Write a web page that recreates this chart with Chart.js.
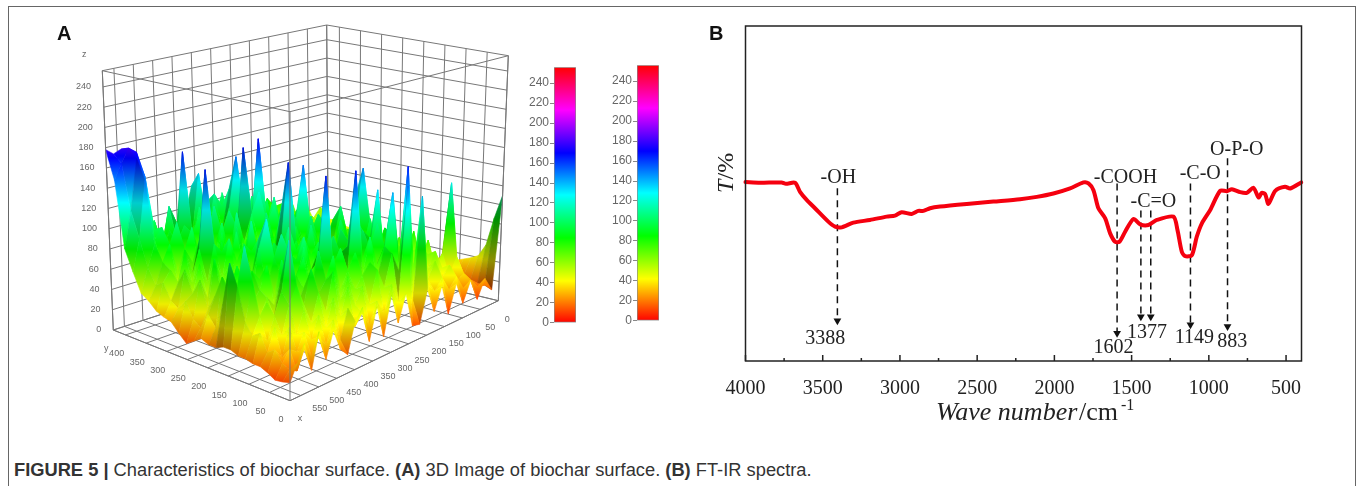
<!DOCTYPE html>
<html>
<head>
<meta charset="utf-8">
<script src="https://cdn.jsdelivr.net/npm/chart.js@4/dist/chart.umd.js"></script>
<style>
html,body{margin:0;padding:0;background:#fff;width:1358px;height:486px;overflow:hidden}
canvas,.txt,.frame{position:absolute}
.frame{left:8px;top:6px;width:1346px;height:480px;border:1px solid #666;border-bottom:none}
.txt{font-family:"Liberation Sans",Arial,sans-serif;color:#111;white-space:nowrap}
.tag{font-weight:bold;font-size:20px}
#cap{left:14px;top:459px;font-size:18.3px;color:#333}
#chartA,#chartB{filter:blur(.5px)}
</style>
</head>
<body>
<div class="frame"></div>
<canvas id="chartA" width="480" height="420" style="left:40px;top:10px"></canvas>
<canvas id="barOne" width="72" height="272" style="left:504px;top:59px"></canvas>
<canvas id="barTwo" width="72" height="272" style="left:587px;top:57px"></canvas>
<canvas id="chartB" width="668" height="430" style="left:690px;top:0"></canvas>
<div class="txt tag" style="left:57px;top:22px">A</div>
<div class="txt tag" style="left:709px;top:22px">B</div>
<div class="txt" id="cap"><b>FIGURE 5 |</b> Characteristics of biochar surface. <b>(A)</b> 3D Image of biochar surface. <b>(B)</b> FT-IR spectra.</div>
<script>
// ---- panel A data, heights (back row first, x=580 on the left)
const xTicks = [0,50,100,150,200,250,300,350,400,450,500,550];
const yTicks = [0,50,100,150,200,250,300,350,400];
const zTicks = [0,20,40,60,80,100,120,140,160,180,200,220,240];
const xMax = 580, yMax = 430, zMax = 256;
const surfaceX = [580,560,540,520,500,480,460,440,420,400,380,360,340,320,300,280,260,240,220,200,180,160,140,120,100,80,60,40,20,0];
const surfaceY = [430,412,394,376,358,340,322,304,287,269,251,233,215,197,179,161,143,125,108,90,72,54,36,18,0];
const surfaceZ = [
  [178,172,175,165,110,85,95,70,105,75,90,120,85,100,80,105,75,95,70,90,65,85,75,60,80,55,70,50,60,45],
  [150,165,178,172,85,100,70,110,90,85,75,135,70,110,95,80,100,70,85,75,90,60,80,70,55,70,50,60,45,45],
  [85,120,170,150,95,70,90,75,165,70,105,85,95,75,115,90,70,95,65,85,60,75,55,70,60,45,60,40,50,40],
  [65,95,150,90,100,65,80,95,85,100,65,90,70,100,150,75,105,65,90,60,80,55,70,50,65,55,45,55,40,40],
  [47,70,90,65,85,105,60,90,70,80,110,65,95,80,95,85,75,100,60,85,55,75,50,65,45,60,40,50,45,35],
  [42,55,75,90,60,80,100,65,95,75,85,105,70,165,90,170,80,70,95,65,80,60,70,45,60,40,55,40,35,35],
  [35,60,70,55,85,70,60,105,70,100,65,90,75,100,120,85,110,75,60,90,55,75,50,70,45,55,35,50,35,30],
  [32,45,60,85,65,95,75,60,95,65,110,75,85,70,90,105,70,100,85,60,80,55,70,45,60,40,50,35,45,30],
  [30,40,75,60,90,165,65,90,60,100,70,95,65,105,75,85,95,65,90,70,60,75,50,65,40,55,35,45,30,30],
  [22,50,55,80,60,95,85,70,100,75,85,60,105,80,100,70,85,105,60,85,65,55,70,45,60,35,50,35,40,30],
  [15,35,70,50,85,65,100,75,65,110,70,95,75,90,65,100,150,75,95,65,80,60,50,65,40,55,35,45,30,30],
  [20,30,45,90,60,80,60,95,85,65,105,70,115,70,95,75,85,100,65,90,55,75,60,45,60,35,50,30,40,30],
  [25,45,60,55,80,55,90,70,100,80,65,90,165,85,70,105,75,90,70,105,70,60,75,50,40,55,35,45,30,28],
  [22,35,80,65,50,95,70,105,60,95,85,75,90,65,100,80,110,65,95,75,115,55,65,50,60,35,50,30,35,28],
  [22,60,65,90,70,60,100,125,80,70,110,85,70,105,75,90,70,100,80,95,145,70,55,70,45,55,35,45,30,30],
  [25,100,75,55,85,75,65,90,110,75,65,100,80,70,115,65,95,75,110,65,90,60,75,50,60,40,50,30,35,30],
  [25,80,115,60,70,90,60,75,95,85,105,70,95,80,70,100,85,105,70,100,60,85,55,70,40,60,35,40,30,30],
  [22,50,85,50,65,55,95,60,70,100,75,90,70,100,60,90,75,95,85,70,90,60,75,50,65,40,45,30,25,32],
  [22,40,55,65,50,85,65,80,95,65,85,165,75,85,90,65,100,75,135,60,85,70,55,80,45,60,35,35,30,32],
  [20,45,35,55,75,120,55,70,60,100,70,80,95,70,165,75,85,105,70,90,60,75,65,50,70,40,45,30,25,35],
  [20,30,50,40,65,80,60,90,65,75,95,60,75,90,65,100,70,85,100,65,85,55,70,60,40,55,125,35,22,38],
  [17,35,25,50,40,60,45,70,50,85,55,75,60,70,80,60,90,140,70,85,60,75,50,65,45,35,50,30,20,42],
  [13,25,35,30,45,35,55,40,65,45,70,50,65,45,75,55,85,65,165,60,70,45,60,40,50,30,35,25,18,55],
  [14,22,18,35,25,40,30,50,28,55,35,45,30,50,35,60,40,150,35,135,45,35,45,30,40,25,30,20,18,85],
  [16,30,45,18,50,22,45,25,17,45,55,20,50,18,55,25,50,16,14,45,20,42,11,38,15,35,12,30,15,110]
];
const colourZ = [0,42,85,128,170,213,256];
const colourRgb = [[255,0,0],[255,255,0],[0,255,0],[0,255,255],[0,0,255],[255,0,255],[255,0,0]];

// ---- panel B data
const waveNumber = [4000,3906,3766,3738,3679,3647,3604,3550,3464,3420,3377,3302,3194,3086,3032,2989,2924,2881,2848,2805,2740,2567,2395,2222,2114,2006,1898,1812,1779,1747,1715,1671,1639,1607,1579,1542,1488,1445,1391,1337,1229,1203,1175,1153,1110,1078,1045,991,927,883,851,797,754,711,678,657,635,614,570,506,473,402];
const transmit = [53.4,53.2,53.3,52.9,53.2,50.5,48.1,45.6,41.6,40.1,39.9,41.3,42.1,43.1,43.4,44.4,43.9,44.8,44.8,45.6,46.1,46.9,47.6,48.3,49,50,51.5,53.3,53,51,45.6,42.6,38.1,35.6,35.6,38.6,42.4,40.8,40.6,42.1,43.1,39.1,32.6,31.3,31.6,37.1,41.1,45.1,50.8,50.7,51.3,50.4,50.2,51.7,48.8,50.2,49.8,46.9,50.8,52,51.5,53.3];
const waveTicks = [4000,3500,3000,2500,2000,1500,1000,500];
const waveMinor = [3750,3250,2750,2250,1750,1250,750];
const arrowWave = [3405,1594,1440,1376,1119,879];
const arrowTop = [51.6,53,44.9,44.9,53,60.5];
const arrowTip = [12,8.3,13.2,13.2,10.8,10.3];
const noteText = ['-OH','3388','-COOH','-C=O','-C-O','O-P-O','1602','1377','1149','883'];
const noteWave = [3399,3483,1540,1359,1056,819,1618,1401,1093,849];
const noteT = [54.7,6.5,54.6,47.6,55.8,63.2,4,8.5,6.8,5.6];

const grey = '#666';
const sans = '"Liberation Sans",Arial,sans-serif';
const serif = '"Liberation Serif","Times New Roman",serif';

// cube corners on the canvas, used to project x,y,z onto the flat scales
const cube = {
  R:[458.3,290.7], F:[250,390.7], L:[73.3,320], B:[288.3,250],
  Rt:[468.3,45.7], Ft:[250,101.7], Lt:[62.3,60.7], Bt:[286.7,15]
};
function mix(a,b,t){ return [a[0]+(b[0]-a[0])*t, a[1]+(b[1]-a[1])*t]; }
function project(x,y,z){
  const u=x/xMax, v=y/yMax, w=z/zMax;
  const low=mix(mix(cube.R,cube.F,u),mix(cube.B,cube.L,u),v);
  const high=mix(mix(cube.Rt,cube.Ft,u),mix(cube.Bt,cube.Lt,u),v);
  const p=mix(low,high,w);
  return {x:p[0],y:p[1]};
}

// rainbow gradient keyed on height, darkened by the facet slope
function rainbow(ctx2d,y0,y1,shade){
  if(!isFinite(y0)||!isFinite(y1)) return 'rgba(0,0,0,0)'; // scales not laid out yet
  const g=ctx2d.createLinearGradient(0,y0,0,y1);
  colourZ.forEach((z,i)=>{
    const c=colourRgb[i];
    g.addColorStop(z/zMax,`rgb(${c[0]*shade|0},${c[1]*shade|0},${c[2]*shade|0})`);
  });
  return g;
}

const layers = [];
function addLine(points,color,width){
  layers.push({data:points,showLine:true,fill:false,borderColor:color||'#777',borderWidth:width||1,pointRadius:0,clip:false});
}
// back walls and floor
function wallsAndFloor(){
  const xs=xTicks.concat([xMax]), ys=yTicks.concat([yMax]), zs=zTicks.concat([zMax]);
  xs.forEach(x=>{
    addLine([project(x,yMax,0),project(x,yMax,zMax)]);
    addLine([project(x,0,0),project(x,yMax,0)]);
  });
  ys.forEach(y=>{
    addLine([project(0,y,0),project(0,y,zMax)]);
    addLine([project(0,y,0),project(xMax,y,0)]);
  });
  zs.forEach(z=>{
    addLine([project(0,0,z),project(0,yMax,z),project(xMax,yMax,z)]);
  });
}
wallsAndFloor();

// surface facets, far ones first
for(let r=0;r<surfaceY.length-1;r++){
  for(let c=surfaceX.length-2;c>=0;c--){
    const z=surfaceZ, x0=surfaceX[c], x1=surfaceX[c+1], y0=surfaceY[r], y1=surfaceY[r+1];
    const a=project(x0,y0,z[r][c]), b=project(x1,y0,z[r][c+1]), d=project(x1,y1,z[r+1][c+1]), e=project(x0,y1,z[r+1][c]);
    const slopeC=(z[r][c+1]+z[r+1][c+1]-z[r][c]-z[r+1][c])/2;
    const slopeR=(z[r+1][c]+z[r+1][c+1]-z[r][c]-z[r][c+1])/2;
    const shade=Math.max(.45,Math.min(1,1-(slopeC*.005)-(slopeR*.003)));
    const xm=(x0+x1)/2, ym=(y0+y1)/2;
    const fillFn=ctx=>{
      const sc=ctx.chart.scales.y;
      return rainbow(ctx.chart.ctx,sc.getPixelForValue(project(xm,ym,0).y),sc.getPixelForValue(project(xm,ym,zMax).y),shade);
    };
    layers.push({data:[a,b,d,e,a],showLine:true,fill:'shape',backgroundColor:fillFn,borderColor:fillFn,borderWidth:.6,pointRadius:0,clip:false,tension:0});
  }
}
// box edges in front of the surface
addLine([project(xMax,yMax,zMax),project(xMax,0,zMax),project(0,0,zMax)]);
addLine([project(xMax,0,0),project(xMax,0,zMax)],'#777');
addLine([project(xMax,yMax,0),project(xMax,yMax,zMax)]);
addLine([project(0,0,0),project(0,0,zMax)]);
addLine([project(xMax,yMax,0),project(xMax,0,0),project(0,0,0)]);
layers.forEach((l,i)=>{ l.order=layers.length-i; });

const axisLabels = {
  id:'axisLabels',
  afterDatasetsDraw(chart){
    const c=chart.ctx, sx=chart.scales.x, sy=chart.scales.y;
    c.save();
    c.font='9px '+sans; c.fillStyle=grey; c.textBaseline='middle';
    const put=(p,dx,dy,t,al)=>{
      c.textAlign=al||'center';
      c.fillText(t,sx.getPixelForValue(p.x)+dx,sy.getPixelForValue(p.y)+dy);
    };
    zTicks.forEach(z=>put(project(xMax,yMax,z),-12,0,String(z),'right'));
    put(project(xMax,yMax,zMax),-18,-16,'z');
    yTicks.forEach(y=>put(project(xMax,y,0),-9,19,String(y)));
    xTicks.forEach(x=>put(project(x,0,0),9+x/55,19-x/92,String(x)));
    put(project(xMax,yMax,0),-7,19,'y');
    put(project(xMax,0,0),10,18,'x');
    c.restore();
  }
};

new Chart(document.getElementById('chartA'),{
  type:'scatter',
  data:{datasets:layers},
  options:{
    responsive:false,animation:false,events:[],
    layout:{padding:0},
    plugins:{legend:{display:false},tooltip:{enabled:false}},
    scales:{
      x:{type:'linear',min:0,max:480,display:false},
      y:{type:'linear',min:0,max:420,reverse:true,display:false}
    }
  },
  plugins:[axisLabels]
});

// colour bars
function colourBar(id){
  new Chart(document.getElementById(id),{
    type:'bar',
    data:{labels:[''],datasets:[{
      data:[[0,zMax]],
      barPercentage:1,categoryPercentage:1,
      borderColor:'#888',borderWidth:1,borderSkipped:false,
      backgroundColor:ctx=>{
        const sc=ctx.chart.scales.y;
        return rainbow(ctx.chart.ctx,sc.getPixelForValue(0),sc.getPixelForValue(zMax),1);
      }
    }]},
    options:{
      responsive:false,animation:false,events:[],
      layout:{padding:{top:8,bottom:8,right:0,left:0}},
      plugins:{legend:{display:false},tooltip:{enabled:false}},
      scales:{
        x:{display:false},
        y:{
          min:0,max:zMax,
          afterFit(s){s.width=50;},
          afterBuildTicks(s){s.ticks=zTicks.map(v=>({value:v}));},
          border:{display:false},
          grid:{drawOnChartArea:false,tickLength:4,color:'#888'},
          ticks:{color:grey,font:{family:sans,size:12},padding:1,autoSkip:false}
        }
      }
    }
  });
}
colourBar('barOne');
colourBar('barTwo');

// panel B
const frameAndNotes = {
  id:'frameAndNotes',
  afterDatasetsDraw(chart){
    const c=chart.ctx, a=chart.chartArea, sx=chart.scales.x, sy=chart.scales.y;
    c.save();
    c.strokeStyle='#222'; c.lineWidth=1.5;
    c.strokeRect(a.left,a.top,a.right-a.left,a.bottom-a.top);
    c.beginPath();
    waveTicks.forEach(v=>{const p=sx.getPixelForValue(v);c.moveTo(p,a.bottom);c.lineTo(p,a.bottom-6);});
    waveMinor.forEach(v=>{const p=sx.getPixelForValue(v);c.moveTo(p,a.bottom);c.lineTo(p,a.bottom-3);});
    c.stroke();
    c.fillStyle='#222'; c.textAlign='center'; c.textBaseline='middle';
    c.font='20px '+serif;
    noteText.forEach((t,i)=>c.fillText(t,sx.getPixelForValue(noteWave[i]),sy.getPixelForValue(noteT[i])));
    // axis titles
    c.textAlign='left'; c.textBaseline='alphabetic';
    c.font='italic 26px '+serif;
    c.fillText('Wave number',246,420);
    c.font='26px '+serif;
    c.fillText('/cm',389,420);
    c.font='16px '+serif;
    c.fillText('-1',431,410);
    c.translate(43,193); c.rotate(-Math.PI/2);
    c.font='italic 24px '+serif;
    c.fillText('T',0,0);
    c.font='24px '+serif;
    c.fillText('/%',13.5,0);
    c.restore();
  }
};

const arrowSets = arrowWave.map((w,i)=>({
  data:[{x:w,y:arrowTop[i]},{x:w,y:arrowTip[i]}],
  borderColor:'#111',backgroundColor:'#111',borderWidth:1.5,borderDash:[7,5],
  pointStyle:'triangle',pointRadius:[0,4.5],rotation:180,pointBorderWidth:0,showLine:true,order:2
}));

new Chart(document.getElementById('chartB'),{
  type:'scatter',
  data:{datasets:[
    {data:waveNumber.map((w,i)=>({x:w,y:transmit[i]})),showLine:true,borderColor:'#f5000f',borderWidth:4,
     pointRadius:0,tension:.25,borderJoinStyle:'round',borderCapStyle:'round',order:1,clip:false},
    ...arrowSets
  ]},
  options:{
    responsive:false,animation:false,events:[],
    layout:{padding:{left:55.5,right:56.5,top:26,bottom:0}},
    plugins:{legend:{display:false},tooltip:{enabled:false}},
    scales:{
      x:{
        type:'linear',min:400,max:4000,reverse:true,
        afterFit(s){s.height=69;},
        afterBuildTicks(s){s.ticks=waveTicks.map(v=>({value:v}));},
        grid:{display:false},border:{display:false},
        ticks:{color:'#222',font:{family:serif,size:20},padding:8,maxRotation:0,autoSkip:false,callback:v=>String(v)}
      },
      y:{type:'linear',min:0,max:100,display:false}
    }
  },
  plugins:[frameAndNotes]
});
</script>
</body>
</html>
